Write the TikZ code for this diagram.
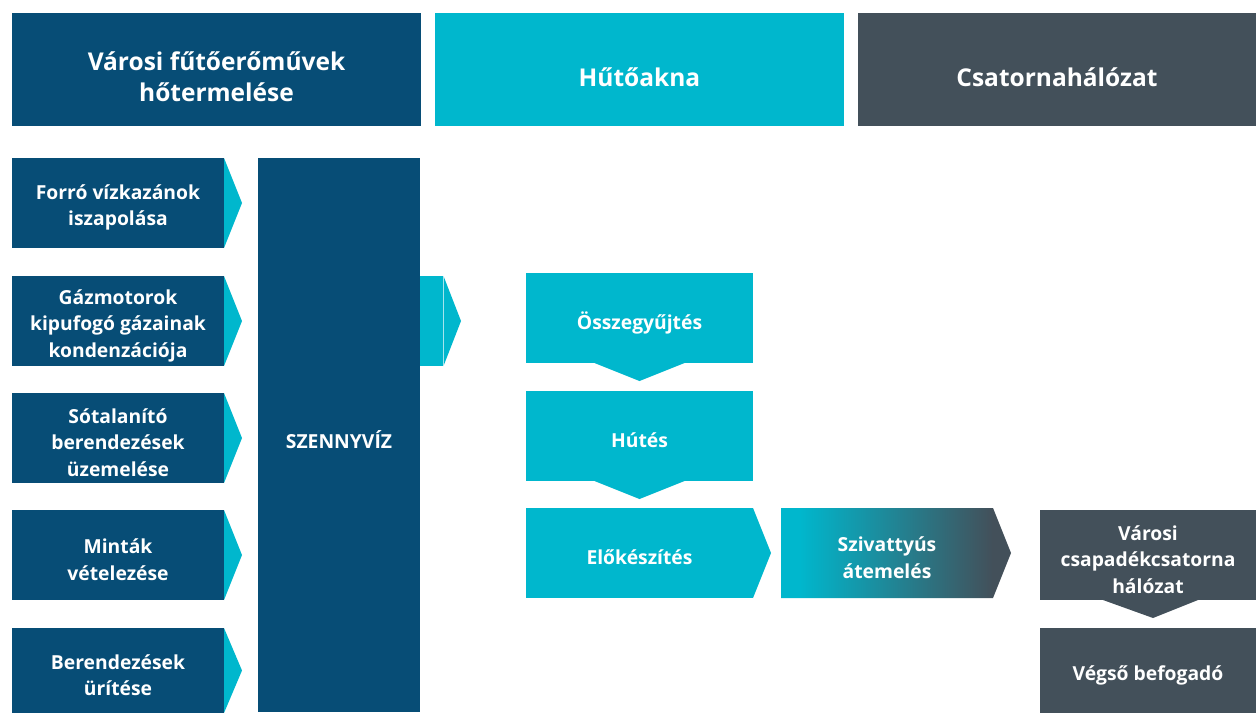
\documentclass[tikz,border=0pt]{standalone}
\usepackage{fontspec}
\setmainfont{Open Sans}
\usetikzlibrary{calc}
\definecolor{dblue}{RGB}{7,77,118}
\definecolor{cyanc}{RGB}{0,183,205}
\definecolor{grayc}{RGB}{67,80,90}
\pgfdeclarehorizontalshading{pumpgrad}{100bp}{color(0bp)=(cyanc); color(29bp)=(cyanc); color(71bp)=(grayc); color(100bp)=(grayc)}
\begin{document}
\begin{tikzpicture}[x=1pt,y=-1pt,
  box/.style={inner sep=0pt, outer sep=0pt, anchor=north west},
  txt/.style={inner sep=0pt, align=center, text=white, yshift=-4.5pt,
    font=\fontsize{19.3}{26.5}\selectfont\bfseries},
  htxt/.style={txt, yshift=-3pt, font=\fontsize{24.5}{31}\selectfont\bfseries},
  hdr/.style={box, minimum height=113pt},
  leftbox/.style={box, fill=dblue, minimum width=212pt, minimum height=90pt},
  midbox/.style={box, fill=cyanc, minimum width=227pt, minimum height=90pt},
  rightbox/.style={box, fill=grayc, minimum width=216pt, minimum height=90pt},
  tipc/.style={fill=cyanc},
]
\useasboundingbox (0,0) rectangle (1256,713);
\fill[white] (0,0) rectangle (1256,713);

% headers
\node[hdr, fill=dblue, minimum width=409pt] (h1) at (12,13) {};
\node[hdr, fill=cyanc, minimum width=409pt] (h2) at (435,13) {};
\node[hdr, fill=grayc, minimum width=398pt] (h3) at (858,13) {};
\node[htxt] at (h1.center) {Városi fűtőerőművek\\hőtermelése};
\node[htxt] at (h2.center) {Hűtőakna};
\node[htxt] at (h3.center) {Csatornahálózat};

% left column
\node[leftbox] (l1) at (12,158) {};
\node[leftbox] (l2) at (12,276) {};
\node[leftbox] (l3) at (12,393) {};
\node[leftbox] (l4) at (12,510) {};
\node[leftbox, minimum height=85pt] (l5) at (12,628) {};
\node[txt] at (l1.center) {Forró vízkazánok\\iszapolása};
\node[txt] at (l2.center) {Gázmotorok\\kipufogó gázainak\\kondenzációja};
\node[txt] at (l3.center) {Sótalanító\\berendezések\\üzemelése};
\node[txt] at (l4.center) {Minták\\vételezése};
\node[txt] at (l5.center) {Berendezések\\ürítése};
\foreach \n in {l1,l2,l3,l4,l5}{
  \fill[tipc] (\n.north east) -- ($(\n.east)+(18,0)$) -- (\n.south east) -- cycle;
}

% szennyviz
\node[box, fill=dblue, minimum width=162pt, minimum height=554pt] (sz) at (258,158) {};
\node[txt] at (sz.center) {SZENNYVÍZ};

% connector from szennyviz
\fill[cyanc] (420,276) rectangle (442.5,366);
\coordinate (ct) at (443.5,276);
\coordinate (cb) at (443.5,366);
\fill[tipc] (ct) -- (461,321) -- (cb) -- cycle;

% middle column
\node[midbox] (m1) at (526,273) {};
\node[midbox] (m2) at (526,391) {};
\node[midbox] (m3) at (526,508) {};
\node[txt] at (m1.center) {Összegyűjtés};
\node[txt] at (m2.center) {Hútés};
\node[txt] at (m3.center) {Előkészítés};
\fill[tipc] ($(m1.south)+(-45,0)$) -- ($(m1.south)+(0,18)$) -- ($(m1.south)+(45,0)$) -- cycle;
\fill[tipc] ($(m2.south)+(-45,0)$) -- ($(m2.south)+(0,18)$) -- ($(m2.south)+(45,0)$) -- cycle;
\fill[tipc] (m3.north east) -- ($(m3.east)+(18,0)$) -- (m3.south east) -- cycle;

% pump
\shade[shading=pumpgrad] (781,508) -- (993,508) -- (1011,553) -- (993,598) -- (781,598) -- cycle;
\node[box, minimum width=212pt, minimum height=90pt] (p) at (781,508) {};
\node[txt] at (p.center) {Szivattyús\\átemelés};

% right column
\node[rightbox] (r1) at (1040,510) {};
\node[rightbox, minimum height=85pt] (r2) at (1040,628) {};
\node[txt] at (r1.center) {Városi\\csapadékcsatorna\\hálózat};
\node[txt] at (r2.center) {Végső befogadó};
\fill[grayc] ($(r1.south)+(-45,0)$) -- ($(r1.south)+(5,18)$) -- ($(r1.south)+(50,0)$) -- cycle;
\end{tikzpicture}
\end{document}
